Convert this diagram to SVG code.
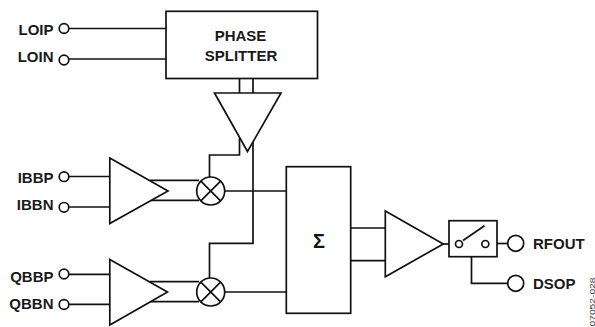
<svg xmlns="http://www.w3.org/2000/svg" width="595" height="327" viewBox="0 0 595 327">
<style>
.l{font-family:"Liberation Sans",Arial,sans-serif;font-size:15px;font-weight:bold;fill:#1a1a1a}
.s{fill:none;stroke:#111;stroke-width:1.7}
.b{fill:#fff;stroke:#111;stroke-width:1.7}
</style>
<rect width="595" height="327" fill="#fff"/>
<g id="connectors" class="s">
<path d="M69 28.500H166M69 59H166"/>
<path d="M239.500 78.500V93M253 78.500V93"/>
<path d="M69 176.500H110M69 207H110"/>
<path d="M69 274.300H110M69 304.300H110"/>
<path d="M150 180.300H199M150 200.300H199"/>
<path d="M150 281.700H199M150 301.700H199"/>
<path d="M239.500 138V155H209.500V177"/>
<path d="M253 138V243.300H209.500V278"/>
<path d="M225 191H286M225 292H286"/>
<path d="M350.700 228H385.300M350.700 260.700H385.300"/>
<path d="M443 244H456"/>
<path d="M489 243.500H508"/>
<path d="M471.500 256.700V283.300H508"/>
</g>
<g id="phase-splitter"><rect class="b" x="166" y="11.300" width="151.500" height="67.200"/>
<text class="l" x="240.500" y="41" text-anchor="middle">PHASE</text><text class="l" x="241" y="61" text-anchor="middle">SPLITTER</text></g>
<g id="lo-amp"><path class="b" d="M214.500 93H281L247.500 151.500Z"/></g>
<g id="i-amp"><path class="b" d="M109.800 158L168 191L109.800 223.500Z"/></g>
<g id="q-amp"><path class="b" d="M109.800 259.500L167.500 292L109.800 325Z"/></g>
<g id="i-mixer"><circle class="b" cx="210.700" cy="191" r="14"/><path class="s" d="M200.800 181.100L220.600 200.900M220.600 181.100L200.800 200.900"/></g>
<g id="q-mixer"><circle class="b" cx="210.700" cy="292" r="14"/><path class="s" d="M200.800 282.100L220.600 301.900M220.600 282.100L200.800 301.900"/></g>
<g id="sum"><rect class="b" x="286.300" y="166.700" width="64.400" height="146.600"/><text x="319" y="248" text-anchor="middle" style="font-family:'Liberation Sans',Arial,sans-serif;font-size:20px;font-weight:bold;fill:#111">Σ</text></g>
<g id="out-amp"><path class="b" d="M385.300 211L443.300 244L385.300 276.700Z"/></g>
<g id="switch"><rect class="b" x="449" y="220.700" width="48" height="36"/><circle class="b" cx="459" cy="244" r="3.500"/><circle class="b" cx="485.300" cy="244" r="3.500"/><path class="s" d="M463 240.500L484.500 225.700"/></g>
<g id="loip"><circle class="b" cx="64" cy="28.500" r="4.800"/><text class="l" x="53.500" y="35" text-anchor="end">LOIP</text></g>
<g id="loin"><circle class="b" cx="64" cy="60" r="4.800"/><text class="l" x="53.500" y="62" text-anchor="end">LOIN</text></g>
<g id="ibbp"><circle class="b" cx="64" cy="176.700" r="4.800"/><text class="l" x="53.500" y="183" text-anchor="end">IBBP</text></g>
<g id="ibbn"><circle class="b" cx="64" cy="207.300" r="4.800"/><text class="l" x="53.500" y="210" text-anchor="end">IBBN</text></g>
<g id="qbbp"><circle class="b" cx="64" cy="274" r="4.800"/><text class="l" x="53.500" y="282" text-anchor="end">QBBP</text></g>
<g id="qbbn"><circle class="b" cx="64" cy="304.500" r="4.800"/><text class="l" x="53.500" y="309" text-anchor="end">QBBN</text></g>
<g id="rfout"><circle class="b" cx="515.700" cy="243.300" r="8"/><text class="l" x="533" y="249">RFOUT</text></g>
<g id="dsop"><circle class="b" cx="515.700" cy="283.300" r="8"/><text class="l" x="533" y="289">DSOP</text></g>
<text x="594.500" y="326.500" transform="rotate(-90 594.500 326.500)" textLength="49" lengthAdjust="spacingAndGlyphs" style="font-family:'Liberation Sans',Arial,sans-serif;font-size:7px;fill:#333">07052-028</text>
</svg>
